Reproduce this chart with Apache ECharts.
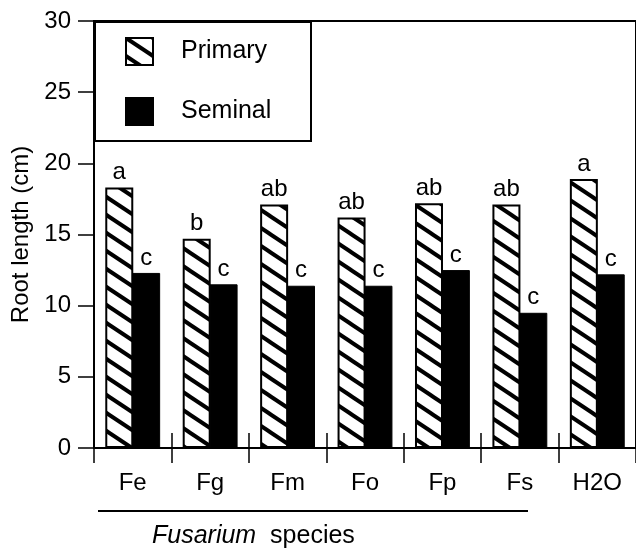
<!DOCTYPE html>
<html>
<head>
<meta charset="utf-8">
<script src="https://cdn.jsdelivr.net/npm/echarts@6/dist/echarts.min.js"></script>
<style>html,body{margin:0;padding:0;background:#fff}#c{width:636px;height:553px}</style>
</head>
<body>
<div id="c"></div>
<script>
var categories = ['Fe', 'Fg', 'Fm', 'Fo', 'Fp', 'Fs', 'H2O'];
var primary = [18.3, 14.7, 17.1, 16.2, 17.2, 17.1, 18.9];
var seminal = [12.3, 11.5, 11.4, 11.4, 12.5, 9.5, 12.2];
var primaryLetters = ['a', 'b', 'ab', 'ab', 'ab', 'ab', 'a'];
var seminalLetters = ['c', 'c', 'c', 'c', 'c', 'c', 'c'];
var yTicks = [0, 5, 10, 15, 20, 25, 30];

var FONT = '"Liberation Sans", Arial, Helvetica, sans-serif';

function makeHatch() {
  var W = 27, H = 18;
  var cv = document.createElement('canvas');
  cv.width = W; cv.height = H;
  var ctx = cv.getContext('2d');
  ctx.fillStyle = '#fff';
  ctx.fillRect(0, 0, W, H);
  ctx.strokeStyle = '#000';
  ctx.lineWidth = 4;
  for (var k = -1; k <= 1; k++) {
    ctx.beginPath();
    ctx.moveTo(-3, k * H - 2);
    ctx.lineTo(W + 3, H + k * H + 2);
    ctx.stroke();
  }
  return cv;
}
var hatch = makeHatch();

var chart = echarts.init(document.getElementById('c'));
var option = {
  animation: false,
  backgroundColor: '#fff',
  textStyle: { fontFamily: FONT },
  grid: { left: 94, top: 21, width: 544, height: 427, show: true, borderColor: '#000', borderWidth: 2, backgroundColor: 'transparent' },
  legend: {
    orient: 'vertical',
    left: 120, top: 32,
    itemWidth: 27, itemHeight: 27, itemGap: 31,
    icon: 'rect',
    textStyle: { fontSize: 25, color: '#000', fontFamily: FONT, padding: [0, 0, 0, 23] },
    data: ['Primary', 'Seminal']
  },
  xAxis: [{
    type: 'category', data: categories,
    axisLine: { lineStyle: { color: '#000', width: 2 } },
    axisTick: { show: true, length: 15, lineStyle: { color: '#000', width: 1.5 } },
    axisLabel: { fontSize: 24, color: '#000', margin: 23, fontFamily: FONT }
  }, {
    type: 'category', data: categories, position: 'bottom',
    axisLine: { show: false },
    axisTick: { show: true, inside: true, length: 15, lineStyle: { color: '#000', width: 1.5 } },
    axisLabel: { show: false }
  }],
  yAxis: {
    type: 'value', min: yTicks[0], max: yTicks[yTicks.length - 1], interval: 5,
    name: 'Root length (cm)', nameLocation: 'middle', nameGap: 56,
    nameTextStyle: { fontSize: 24, color: '#000', fontFamily: FONT },
    axisLine: { show: true, lineStyle: { color: '#000', width: 2 } },
    axisTick: { show: true, length: 16, lineStyle: { color: '#000', width: 1.5 } },
    axisLabel: { fontSize: 24, color: '#000', margin: 23, fontFamily: FONT },
    splitLine: { show: false }
  },
  series: [{
    name: 'Primary', type: 'bar', data: primary, barWidth: 28, barGap: '-4%',
    itemStyle: { color: { image: hatch, repeat: 'repeat' }, borderColor: '#000', borderWidth: 2 },
    label: { show: true, position: 'top', distance: 3, fontSize: 24, color: '#000', fontFamily: FONT,
      formatter: function (p) { return primaryLetters[p.dataIndex]; } }
  }, {
    name: 'Seminal', type: 'bar', data: seminal, barWidth: 28,
    itemStyle: { color: '#000', borderColor: '#000', borderWidth: 1 },
    label: { show: true, position: 'top', distance: 3, fontSize: 24, color: '#000', fontFamily: FONT,
      formatter: function (p) { return seminalLetters[p.dataIndex]; } }
  }],
  graphic: [{
    type: 'rect', left: 94, top: 21, z: 0,
    shape: { width: 216, height: 119 },
    style: { fill: '#fff', stroke: '#000', lineWidth: 2 }
  }, {
    type: 'line', z: 10,
    shape: { x1: 98, y1: 511, x2: 528, y2: 511 },
    style: { stroke: '#000', lineWidth: 2 }
  }, {
    type: 'text', left: 152, top: 524, z: 10,
    style: {
      text: '{i|Fusarium}  species',
      rich: { i: { fontStyle: 'italic', fontSize: 25, fontFamily: FONT, fill: '#000' } },
      fontSize: 25, fontFamily: FONT, fill: '#000'
    }
  }]
};
chart.setOption(option);
</script>
</body>
</html>
